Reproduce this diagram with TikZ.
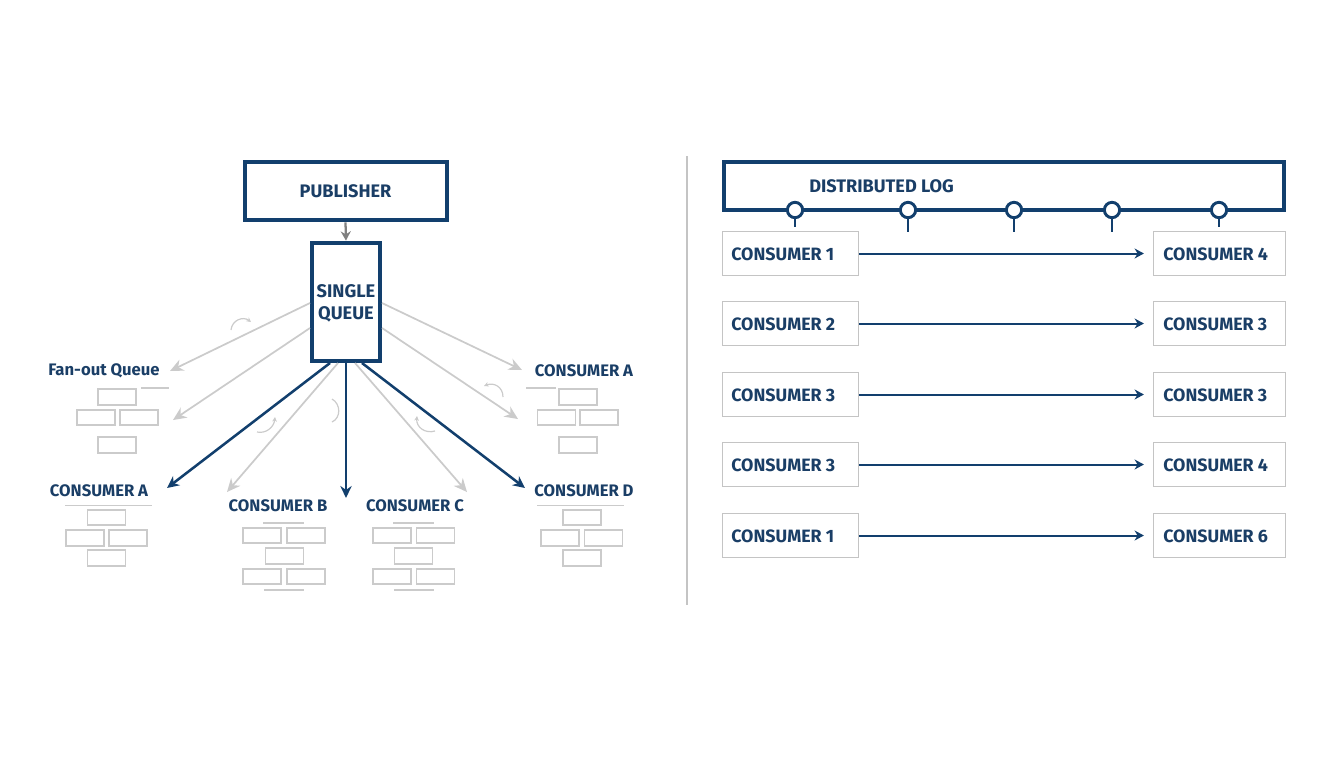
\documentclass[tikz,border=0pt]{standalone}
\usepackage{fontspec}
\setmainfont{Fira Sans}
\usetikzlibrary{arrows.meta,calc}
\definecolor{navy}{HTML}{123F6D}
\definecolor{inkblue}{HTML}{1A3E66}
\definecolor{softgray}{HTML}{CBCBCB}
\definecolor{boxgray}{HTML}{C4C4C4}
\tikzset{
  x=.75pt,y=-.75pt,
  heavybox/.style={draw=navy,line width=3pt,fill=white,inner sep=0pt,font=\fontsize{13.6}{16}\selectfont\bfseries,text=inkblue,align=center},
  consbox/.style={draw=boxgray,line width=1.4pt,fill=white,inner sep=0pt,minimum height=33pt},
  brick/.style={draw=softgray,line width=1.3pt,inner sep=0pt,minimum width=28.5pt,minimum height=11.5pt},
  rule/.style={draw=softgray,line width=1pt},
  lbl/.style={font=\fontsize{12.5}{15}\selectfont\bfseries,text=inkblue,inner sep=0pt},
  rowlbl/.style={font=\fontsize{13.4}{16}\selectfont\bfseries,text=inkblue,inner sep=0pt},
  fade/.style={draw=softgray,line width=1.3pt,-{Stealth[length=10pt,width=9pt]}},
  strong/.style={draw=navy,line width=1.9pt,-{Stealth[length=9pt,width=8.5pt]}},
  flow/.style={draw=navy,line width=1.5pt,-{Stealth[length=7pt,width=7.5pt]},shorten >=6.5pt},
  curl/.style={draw=softgray,line width=.9pt,-{Stealth[length=3.5pt,width=3.5pt]}},
  logdot/.style={circle,draw=navy,line width=2.2pt,fill=white,minimum size=11.5pt,inner sep=0pt},
  stem/.style={draw=navy,line width=1.5pt},
}
\begin{document}
\begin{tikzpicture}
\useasboundingbox (0,0) rectangle (1344,768);
% publisher & queue
\node[heavybox,minimum width=151.5pt,minimum height=44pt] (pub) at (345.5,191) {PUBLISHER};
\node[heavybox,minimum width=51pt,minimum height=89pt] (queue) at (346,302) {};
\node[font=\fontsize{13.7}{16.5}\selectfont\bfseries,text=inkblue,inner sep=0pt,align=center] (qlabel) at (346,303.5) {SINGLE\\QUEUE};
\draw[draw=gray,line width=1.7pt,-{Stealth[length=7pt,width=7.5pt]}] (pub.south) -- (queue.north);
% free ends
\coordinate (ql1) at (310,303); \coordinate (ql2) at (310,328);
\coordinate (qr1) at (382,303); \coordinate (qr2) at (382,328);
\coordinate (qb1) at (330,363); \coordinate (qb2) at (338,363);
\coordinate (qb3) at (346,363);
\coordinate (qb4) at (355,363); \coordinate (qb5) at (362,363);
\coordinate (t1) at (170,371); \coordinate (t2) at (173,420);
\coordinate (t3) at (167,488); \coordinate (t4) at (227,492);
\coordinate (t5) at (346,498); \coordinate (t6) at (467,492);
\coordinate (t7) at (525,488); \coordinate (t8) at (518,419);
\coordinate (t9) at (522,370);
\draw[fade] (ql1) -- (t1);
\draw[fade] (ql2) -- (t2);
\draw[fade] (qb2) -- (t4);
\draw[fade] (qb4) -- (t6);
\draw[fade] (qr2) -- (t8);
\draw[fade] (qr1) -- (t9);
\draw[strong] (qb1) -- (t3);
\draw[strong] (qb3) -- (t5);
\draw[strong] (qb5) -- (t7);
% small curls
\draw[curl] (231,330) .. controls (232,320) and (243,316) .. (251,322);
\draw[curl] (257,432) .. controls (266,434) and (274,427) .. (275,417);
\draw[draw=softgray,line width=.9pt] (332,399) .. controls (341,404) and (341,418) .. (332,422);
\draw[curl] (503,397) .. controls (503,387) and (494,382) .. (484,386);
\draw[curl] (435,431) .. controls (425,434) and (416,427) .. (417,416);
% labels
\node[lbl] (lfan) at (104,371) {Fan-out Queue};
\node[lbl] (lca) at (99,490.5) {CONSUMER A};
\node[lbl] (lcb) at (278,506) {CONSUMER B};
\node[lbl] (lcc) at (415,506) {CONSUMER C};
\node[lbl] (lcr) at (584,370.5) {CONSUMER A};
\node[lbl] (lcd) at (584,490.5) {CONSUMER D};
% fan-out bricks
\draw[rule] (141,388) -- (169,388);
\node[brick] (f1) at (117,397) {};
\node[brick] (f2) at (96,417.5) {};
\node[brick] (f3) at (139,417.5) {};
\node[brick] (f4) at (117,445) {};
% consumer A lower
\draw[rule] (65,505.7) -- (152,505.7);
\node[brick] (a1) at (106.5,517.5) {};
\node[brick] (a2) at (85,538) {};
\node[brick] (a3) at (128,538) {};
\node[brick] (a4) at (106.5,558) {};
% consumer B
\draw[rule] (263,523) -- (304,523);
\node[brick] (b1) at (262,535.5) {};
\node[brick] (b2) at (306,535.5) {};
\node[brick] (b3) at (284.5,556) {};
\node[brick] (b4) at (262,576.5) {};
\node[brick] (b5) at (306,576.5) {};
\draw[rule] (264,590) -- (304,590);
% consumer C
\draw[rule] (393,523) -- (434,523);
\node[brick] (c1) at (392,535.5) {};
\node[brick] (c2) at (435.5,535.5) {};
\node[brick] (c3) at (413.5,556) {};
\node[brick] (c4) at (392,576.5) {};
\node[brick] (c5) at (435.5,576.5) {};
\draw[rule] (394,590) -- (434,590);
% consumer A right
\draw[rule] (526,388) -- (556,388);
\node[brick] (r1) at (578,397) {};
\node[brick] (r2) at (556.5,417.5) {};
\node[brick] (r3) at (599,417.5) {};
\node[brick] (r4) at (578,445) {};
% consumer D
\draw[rule] (537,505.7) -- (624,505.7);
\node[brick] (d1) at (582,517.5) {};
\node[brick] (d2) at (560,538) {};
\node[brick] (d3) at (603.5,538) {};
\node[brick] (d4) at (582,558) {};
% divider
\coordinate (dv1) at (687,156); \coordinate (dv2) at (687,605);
\draw[draw=boxgray,line width=1.2pt] (dv1) -- (dv2);
% distributed log
\node[heavybox,minimum width=420.5pt,minimum height=36pt] (log) at (1004,185.5) {};
\node[anchor=west,font=\fontsize{13.6}{16}\selectfont\bfseries,text=inkblue,inner sep=0pt] (logt) at (809,186) {DISTRIBUTED LOG};
\foreach \n/\px/\py in {1/795/227,2/908/232,3/1014/232,4/1112/232,5/1219/227}{
  \coordinate (s\n) at (\px,\py);
  \node[logdot] (o\n) at (\px,210) {};
  \draw[stem] (o\n) -- (s\n);
}
% consumer rows
\foreach \n/\y/\la/\lb in {1/253.5/1/4,2/323.5/2/3,3/394.5/3/3,4/464.5/3/4,5/535.5/1/6}{
  \node[consbox,minimum width=102pt] (L\n) at (790.5,\y) {};
  \node[consbox,minimum width=99pt] (R\n) at (1219.5,\y) {};
  \node[rowlbl,anchor=west] (Lt\n) at (731,\y+0.5) {CONSUMER \la};
  \node[rowlbl,anchor=west] (Rt\n) at (1163,\y+0.5) {CONSUMER \lb};
  \draw[flow] (L\n) -- (R\n);
}
\end{tikzpicture}
\end{document}
